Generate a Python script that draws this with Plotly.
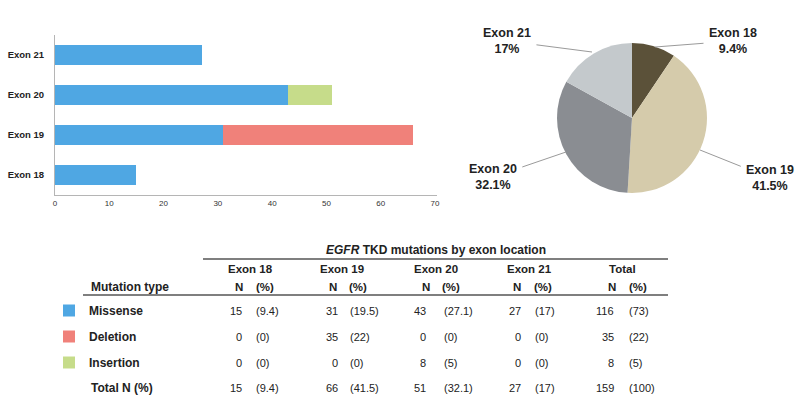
import plotly.graph_objects as go

# ---------------- data ----------------
exons = ["Exon 18", "Exon 19", "Exon 20", "Exon 21"]
mutation_types = ["Missense", "Deletion", "Insertion"]
missense_n = [15, 31, 43, 27]
deletion_n = [0, 35, 0, 0]
insertion_n = [0, 0, 8, 0]
missense_pct = [9.4, 19.5, 27.1, 17]
deletion_pct = [0, 22, 0, 0]
insertion_pct = [0, 0, 5, 0]
total_n = [15, 66, 51, 27]
total_pct = [9.4, 41.5, 32.1, 17]
type_total_n = [116, 35, 8]
type_total_pct = [73, 22, 5]
grand_total_n = 159
grand_total_pct = 100
x_ticks = [0, 10, 20, 30, 40, 50, 60, 70]

W, H = 800, 417
FONT = "Liberation Sans, Arial, Helvetica, sans-serif"
TXT = "#222222"


def px(x):
    return x / W


def py(y):
    return 1 - y / H


fig = go.Figure()

bar_colors = {"Missense": "#4fa7e3", "Deletion": "#f0817a", "Insertion": "#c6dc8a"}
series = {"Missense": missense_n, "Deletion": deletion_n, "Insertion": insertion_n}
for i, name in enumerate(mutation_types):
    fig.add_trace(go.Bar(
        y=exons, x=series[name], name=name, orientation="h",
        marker=dict(color=bar_colors[name], line=dict(width=0)),
        width=0.5, legendgroup=name, showlegend=True,
        xaxis="x", yaxis="y",
    ))

# pie
pie_colors = ["#5b5139", "#d5cbab", "#8a8d92", "#c4c9cc"]
fig.add_trace(go.Pie(
    labels=exons, values=total_n, sort=False, direction="clockwise",
    rotation=0, textinfo="none", showlegend=False,
    marker=dict(colors=pie_colors, line=dict(width=0)),
    domain=dict(x=[px(557), px(707)], y=[py(193), py(43)]),
))

annotations = []
# pie labels with leader lines
pie_label_pos = [(733, 41), (770, 178), (493, 177), (507, 41)]
pie_arrow_pt = [(655, 47), (700, 150), (566, 152), (592, 52)]
for lab, pct, (tx, ty), (ax_, ay_) in zip(exons, total_pct, pie_label_pos, pie_arrow_pt):
    annotations.append(dict(
        x=px(ax_), y=py(ay_), xref="paper", yref="paper",
        ax=tx - ax_, ay=ty - ay_, axref="pixel", ayref="pixel",
        text=f"<b>{lab}<br>{pct:g}%</b>", showarrow=True, arrowhead=0,
        arrowwidth=1, arrowcolor="#9a9a9a", standoff=0, startstandoff=4,
        font=dict(family=FONT, size=12.5, color=TXT), align="center",
    ))

# table
annotations.append(dict(
    x=px(436), y=py(250), xref="paper", yref="paper", showarrow=False,
    text="<b><i>EGFR</i> TKD mutations by exon location</b>",
    font=dict(family=FONT, size=12, color=TXT), xanchor="center", yanchor="middle"))

col_centers = [250, 342, 436, 529, 622]
n_centers = [239, 333, 426, 517, 612]
p_centers = [265, 358, 451, 543, 638]
n_right = [244, 340, 428, 523, 616]
p_left = [254, 348, 442, 533, 627]
headers = exons + ["Total"]
for h, cx, nx, pcx in zip(headers, col_centers, n_centers, p_centers):
    annotations.append(dict(x=px(cx), y=py(269), xref="paper", yref="paper", showarrow=False,
                            text=f"<b>{h}</b>", font=dict(family=FONT, size=11.5, color=TXT),
                            xanchor="center", yanchor="middle"))
    annotations.append(dict(x=px(nx), y=py(287), xref="paper", yref="paper", showarrow=False,
                            text="<b>N</b>", font=dict(family=FONT, size=11.5, color=TXT),
                            xanchor="center", yanchor="middle"))
    annotations.append(dict(x=px(pcx), y=py(287), xref="paper", yref="paper", showarrow=False,
                            text="<b>(%)</b>", font=dict(family=FONT, size=11.5, color=TXT),
                            xanchor="center", yanchor="middle"))
annotations.append(dict(x=px(89), y=py(287), xref="paper", yref="paper", showarrow=False,
                        text="<b>Mutation type</b>", font=dict(family=FONT, size=12, color=TXT),
                        xanchor="left", yanchor="middle"))

rows_n = [missense_n + [type_total_n[0]], deletion_n + [type_total_n[1]],
          insertion_n + [type_total_n[2]], total_n + [grand_total_n]]
rows_p = [missense_pct + [type_total_pct[0]], deletion_pct + [type_total_pct[1]],
          insertion_pct + [type_total_pct[2]], total_pct + [grand_total_pct]]
row_y = [311, 337, 363, 388]
for ri, (ns, ps, yy) in enumerate(zip(rows_n, rows_p, row_y)):
    for n, p, xr, xl in zip(ns, ps, n_right, p_left):
        annotations.append(dict(x=px(xr), y=py(yy), xref="paper", yref="paper", showarrow=False,
                                text=f"{n}", font=dict(family=FONT, size=11, color=TXT),
                                xanchor="right", yanchor="middle"))
        annotations.append(dict(x=px(xl), y=py(yy), xref="paper", yref="paper", showarrow=False,
                                text=f"({p:g})", font=dict(family=FONT, size=11, color=TXT),
                                xanchor="left", yanchor="middle"))
annotations.append(dict(x=px(89), y=py(388), xref="paper", yref="paper", showarrow=False,
                        text="<b>Total N (%)</b>", font=dict(family=FONT, size=12, color=TXT),
                        xanchor="left", yanchor="middle"))

shapes = [
    dict(type="line", xref="paper", yref="paper", x0=px(203), x1=px(668), y0=py(259), y1=py(259),
         line=dict(color="#555555", width=1.5)),
    dict(type="line", xref="paper", yref="paper", x0=px(83), x1=px(668), y0=py(295), y1=py(295),
         line=dict(color="#555555", width=1.5)),
]

fig.update_layout(
    width=W, height=H, margin=dict(l=0, r=0, t=0, b=0, autoexpand=False),
    paper_bgcolor="white", plot_bgcolor="white",
    barmode="stack", bargap=0.5,
    font=dict(family=FONT, color=TXT),
    xaxis=dict(domain=[px(55), px(437)], range=[0, 70.37], tickvals=x_ticks,
               showgrid=False, zeroline=False, showline=True, linecolor="#b5b5b5", linewidth=1,
               ticks="", tickfont=dict(size=8, color="#333333"), anchor="y", fixedrange=True,
               automargin=False),
    yaxis=dict(domain=[py(195), py(35)], range=[-0.5, 3.5], showgrid=False, zeroline=False,
               showline=True, linecolor="#b5b5b5", linewidth=1, ticks="",
               tickfont=dict(size=9.5, color=TXT, weight="bold"), ticklabelstandoff=8,
               anchor="x", categoryorder="array", categoryarray=exons, fixedrange=True,
               automargin=False),
    legend=dict(x=px(49), y=py(296), xanchor="left", yanchor="top", traceorder="grouped",
                tracegroupgap=7, font=dict(family=FONT, size=12, color=TXT, weight="bold"),
                bgcolor="rgba(0,0,0,0)", itemclick=False, itemdoubleclick=False),
    annotations=annotations, shapes=shapes,
)

fig.write_html("out.html", config={"displayModeBar": False},
               post_script="document.body.style.margin='0';document.body.style.overflow='hidden';")
